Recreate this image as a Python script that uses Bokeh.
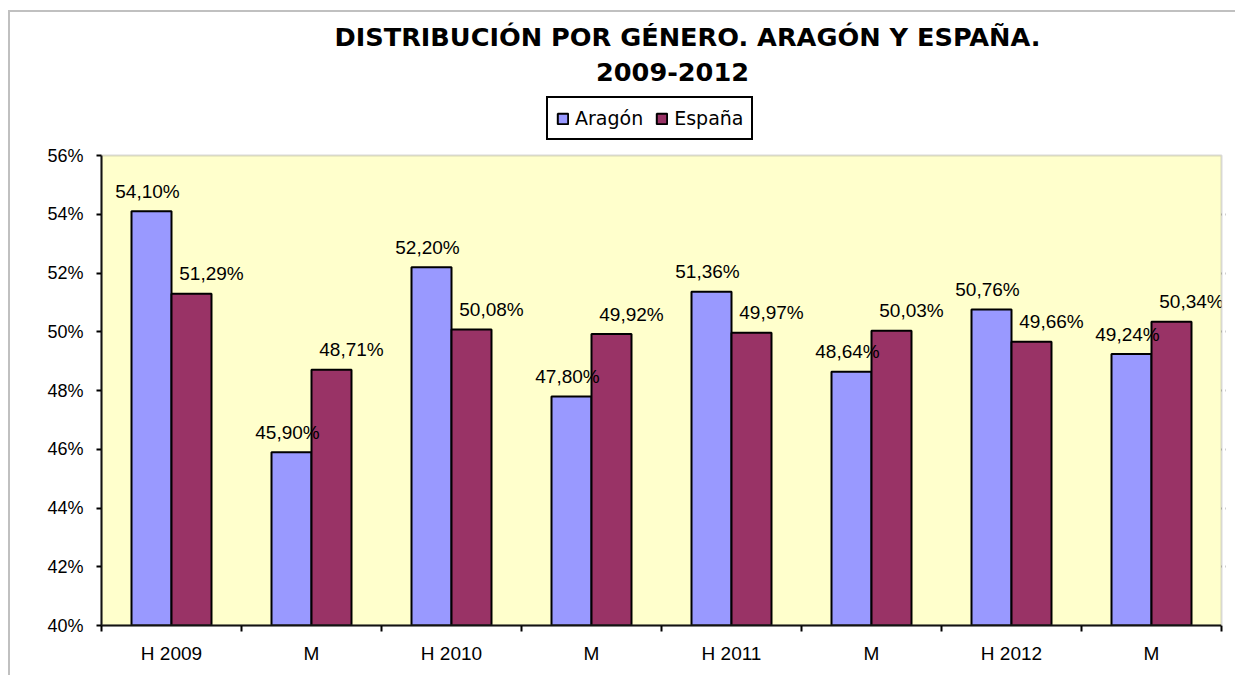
from bokeh.plotting import figure
from bokeh.models import (ColumnDataSource, FixedTicker, PrintfTickFormatter, Legend,
                          LegendItem, Label, BoxAnnotation)
from bokeh.transform import dodge
from bokeh.core.properties import value
from bokeh.embed import file_html
from bokeh.resources import INLINE

categories = ["H 2009", "M", "H 2010", "M", "H 2011", "M", "H 2012", "M"]
aragon = [54.10, 45.90, 52.20, 47.80, 51.36, 48.64, 50.76, 49.24]
espana = [51.29, 48.71, 50.08, 49.92, 49.97, 50.03, 49.66, 50.34]
y_ticks = [40, 42, 44, 46, 48, 50, 52, 54, 56]

title_line1 = "DISTRIBUCIÓN POR GÉNERO. ARAGÓN Y ESPAÑA."
title_line2 = "2009-2012"

def fmt(v):
    return f"{v:.2f}%".replace(".", ",")

n = len(categories)
pos = [i + 0.5 for i in range(n)]
src = ColumnDataSource(dict(
    x=pos,
    aragon=aragon,
    espana=espana,
    base=[y_ticks[0]] * n,
    lab_a=[fmt(v) for v in aragon],
    lab_e=[fmt(v) for v in espana],
))

# layout geometry (pixels)
px_per_cat = 140.0
W, H = 1227, 665
mb_left, mb_top, mb_bottom = 91, 0, 52
frame_w = int(n * px_per_cat + 4)
mb_right = W - mb_left - frame_w
frame_h = H - mb_top - mb_bottom
px_per_unit_y = 470.0 / (y_ticks[-1] - y_ticks[0])
x_end = frame_w / px_per_cat
y_end = y_ticks[0] + frame_h / px_per_unit_y

p = figure(width=W, height=H, x_range=(0, x_end), y_range=(y_ticks[0], y_end),
           output_backend="svg", toolbar_location=None,
           min_border_left=mb_left, min_border_right=mb_right,
           min_border_top=mb_top, min_border_bottom=mb_bottom)
p.styles = {"margin-left": "8px", "margin-top": "10px",
            "border-top": "2px solid #c0c0c0", "border-left": "2px solid #c0c0c0"}
p.background_fill_color = "white"
p.border_fill_color = "white"
p.outline_line_color = None

# plot area background
p.add_layout(BoxAnnotation(left=0, right=n, bottom=y_ticks[0], top=y_ticks[-1],
                           fill_color="#FFFFCC", fill_alpha=1,
                           line_color=None, level="underlay"))
# white cover right of the plot area (hides grid overhang)
p.add_layout(BoxAnnotation(left=n, right=x_end, bottom=y_ticks[0], top=y_end,
                           fill_color="white", fill_alpha=1, line_color=None))
# gray top/right border of plot area, drawn over the grid
p.add_layout(BoxAnnotation(left=0, right=n, bottom=y_ticks[0], top=y_ticks[-1],
                           fill_alpha=0, line_color="#808080", line_width=2))

bw = 0.2857
r1 = p.vbar(x=dodge("x", -bw / 2), top="aragon", bottom="base", width=bw, source=src,
            fill_color="#9999FF", line_color="black", line_width=2)
r2 = p.vbar(x=dodge("x", bw / 2), top="espana", bottom="base", width=bw, source=src,
            fill_color="#993366", line_color="black", line_width=2)

lab_font = value("Liberation Sans")
p.text(x=dodge("x", -bw / 2), y="aragon", text="lab_a", source=src, text_align="center",
       text_baseline="alphabetic", x_offset=-4, y_offset=-20, text_font=lab_font,
       text_font_size="19px", text_color="black")
p.text(x=dodge("x", bw / 2), y="espana", text="lab_e", source=src, text_align="center",
       text_baseline="alphabetic", x_offset=20, y_offset=-20, text_font=lab_font,
       text_font_size="19px", text_color="black")

# grid
p.xgrid.visible = False
p.ygrid.ticker = FixedTicker(ticks=y_ticks[1:-1], minor_ticks=[])
p.ygrid.grid_line_color = "black"
p.ygrid.grid_line_width = 2
p.ygrid.level = "underlay"

# y axis
p.yaxis.ticker = FixedTicker(ticks=y_ticks, minor_ticks=[])
p.yaxis.bounds = (y_ticks[0], y_ticks[-1])
p.yaxis.formatter = PrintfTickFormatter(format="%d%%")
p.yaxis.axis_line_color = "black"
p.yaxis.axis_line_width = 2
p.yaxis.major_tick_line_width = 2
p.yaxis.major_tick_out = 5
p.yaxis.major_tick_in = 0
p.yaxis.minor_tick_line_color = None
p.yaxis.major_label_standoff = 13
p.yaxis.major_label_text_font = "Liberation Sans"
p.yaxis.major_label_text_font_size = "18px"
p.yaxis.major_label_text_color = "black"

# x axis
p.xaxis.ticker = FixedTicker(ticks=pos, minor_ticks=list(range(n + 1)))
p.xaxis.bounds = (0, n)
p.xaxis.major_label_overrides = {x: c for x, c in zip(pos, categories)}
p.xaxis.axis_line_color = "black"
p.xaxis.axis_line_width = 2
p.xaxis.major_tick_line_color = None
p.xaxis.major_tick_out = 0
p.xaxis.major_tick_in = 0
p.xaxis.minor_tick_line_color = "black"
p.xaxis.minor_tick_line_width = 2
p.xaxis.minor_tick_out = 6
p.xaxis.minor_tick_in = 0
p.xaxis.major_label_standoff = 11
p.xaxis.major_label_text_font = "Liberation Sans"
p.xaxis.major_label_text_font_size = "19px"
p.xaxis.major_label_text_color = "black"

# title (two lines), positioned relative to the frame's bottom-left
for txt, cx, sy in [(title_line1, 586, 589), (title_line2, 571, 554)]:
    p.add_layout(Label(x=cx, y=sy, x_units="screen", y_units="screen",
                       text=txt, text_align="center", text_baseline="alphabetic",
                       text_font="DejaVu Sans", text_font_style="bold",
                       text_font_size="25.6px", text_color="black"))

legend = Legend(items=[LegendItem(label="Aragón", renderers=[r1]),
                       LegendItem(label="España", renderers=[r2])],
                location=(445, 485), orientation="horizontal",
                label_text_font="DejaVu Sans", label_text_font_size="19px",
                label_text_color="black",
                glyph_width=13, glyph_height=13, label_standoff=6, spacing=12,
                padding=8, margin=0, label_height=24,
                border_line_color="black", border_line_width=2, border_line_alpha=1,
                background_fill_color="white", background_fill_alpha=1)
p.add_layout(legend, "center")

open("out.html", "w").write(file_html(p, INLINE))
